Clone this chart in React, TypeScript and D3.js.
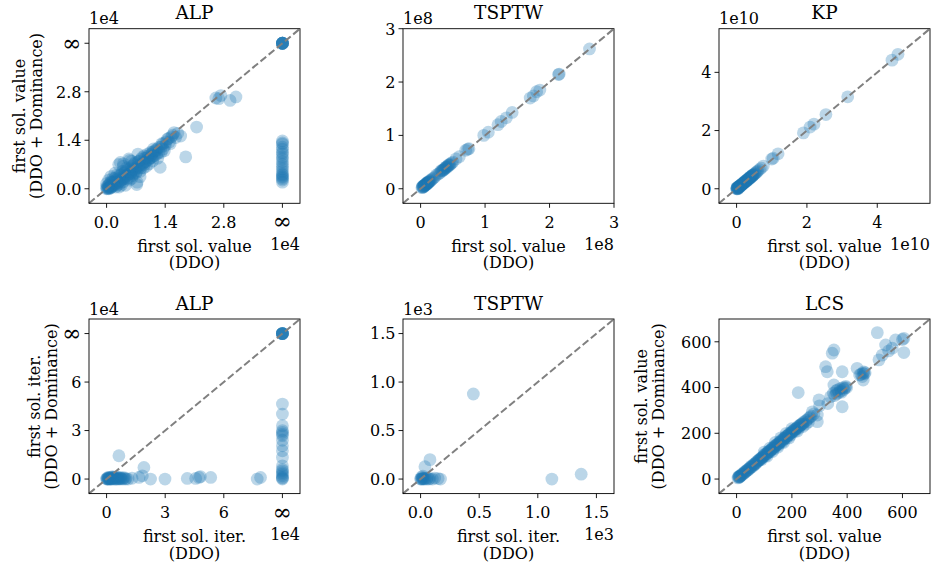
import React from 'react';
import * as d3 from 'd3';

const W = 933;
const H = 567;
const BLUE = '#1f77b4';
const FONT = '"DejaVu Serif", serif';

// ALP, first solution value, units of 1e4. 4.2 is the "no solution" (inf) position
const ALP_VAL_INF = 4.2;
const alpValuePoints: [number, number][] = [
  [0.0, 0.0], [0.02, 0.01], [0.03, 0.02], [0.05, 0.03], [0.06, 0.04], [0.08, 0.06], [0.1, 0.02],
  [0.1, 0.08], [0.12, 0.1], [0.14, 0.1], [0.15, 0.08], [0.18, 0.2], [0.2, 0.12], [0.2, 0.15],
  [0.22, 0.05], [0.25, 0.22], [0.25, 0.2], [0.28, 0.18], [0.3, 0.3], [0.32, 0.15], [0.35, 0.4],
  [0.38, 0.28], [0.4, 0.2], [0.42, 0.45], [0.45, 0.35], [0.48, 0.3], [0.5, 0.55], [0.52, 0.42],
  [0.55, 0.25], [0.58, 0.6], [0.6, 0.5], [0.62, 0.38], [0.65, 0.7], [0.68, 0.55], [0.7, 0.45],
  [0.72, 0.12], [0.75, 0.78], [0.78, 0.62], [0.8, 0.5], [0.82, 0.85], [0.85, 0.7], [0.88, 0.6],
  [0.9, 0.95], [0.92, 0.78], [0.95, 0.65], [0.98, 1.0], [1.0, 0.85], [1.02, 0.72], [1.05, 1.05],
  [1.08, 0.9], [1.1, 0.8], [1.12, 1.15], [1.15, 0.95], [1.18, 1.1], [1.2, 1.0], [1.22, 0.88],
  [1.25, 1.2], [1.28, 0.62], [1.3, 1.05], [1.32, 1.3], [1.35, 1.15], [1.4, 1.25], [1.45, 1.43],
  [1.5, 1.35], [1.55, 1.5], [1.61, 1.62], [1.65, 1.48], [1.77, 1.52], [0.33, 0.76], [0.53, 0.86],
  [0.29, 0.7], [0.1, 0.35], [0.05, 0.25], [0.2, 0.45], [0.4, 0.65], [0.6, 0.8], [0.75, 1.0],
  [0.57, 0.43], [0.73, 0.19], [0.45, 0.1], [0.3, 0.05], [0.15, 0.3], [0.0, 0.15], [0.05, 0.0],
  [0.0, 0.05], [1.89, 0.92], [2.15, 1.78], [2.61, 2.62], [2.68, 2.6], [2.73, 2.69], [2.95, 2.55],
  [3.09, 2.65],
  [0.05, 0.1], [0.08, 0.15], [0.1, 0.2], [0.12, 0.05], [0.15, 0.2], [0.18, 0.1], [0.2, 0.3],
  [0.22, 0.25], [0.25, 0.1], [0.28, 0.35], [0.3, 0.2], [0.32, 0.4], [0.35, 0.25], [0.38, 0.5],
  [0.4, 0.35], [0.42, 0.3], [0.45, 0.5], [0.48, 0.6], [0.5, 0.4], [0.52, 0.3], [0.55, 0.5],
  [0.58, 0.45], [0.6, 0.65], [0.62, 0.55], [0.65, 0.45], [0.68, 0.75], [0.7, 0.6], [0.72, 0.5],
  [0.75, 0.65], [0.78, 0.8], [0.8, 0.7], [0.82, 0.6], [0.85, 0.9], [0.88, 0.75], [0.9, 0.7],
  [0.92, 0.88], [0.95, 0.8], [0.98, 0.9], [1.0, 0.95], [1.02, 0.85], [1.05, 0.9], [1.08, 1.0],
  [1.1, 1.05], [1.12, 0.95], [1.15, 1.1], [1.2, 1.15], [1.25, 1.05], [1.3, 1.2], [1.35, 1.3],
  [1.38, 1.1], [1.42, 1.35], [1.48, 1.45], [1.52, 1.3], [1.58, 1.55], [1.7, 1.6], [0.4, 0.72],
  [0.55, 0.82], [0.35, 0.1], [0.6, 0.3], [0.8, 0.35], [0.25, 0.4], [0.15, 0.15], [0.08, 0.02],
  [0.12, 0.18], [0.03, 0.08],
];
const alpValueInfBoth = 8;
const alpValueInfColumn = [
  1.38, 1.32, 1.29, 1.2, 1.14, 1.05, 1.0, 0.92, 0.86, 0.78, 0.71, 0.64, 0.57, 0.5, 0.43, 0.4,
  0.36, 0.33, 0.29, 0.25, 0.19,
];

// TSPTW, first solution value, units of 1e8
const tsptwValuePoints: [number, number][] = [
  [0.02, 0.02], [0.03, 0.03], [0.04, 0.05], [0.05, 0.04], [0.05, 0.06], [0.06, 0.06], [0.06, 0.07],
  [0.07, 0.07], [0.08, 0.08], [0.08, 0.07], [0.09, 0.1], [0.1, 0.09], [0.1, 0.11], [0.11, 0.11],
  [0.12, 0.12], [0.12, 0.13], [0.13, 0.13], [0.14, 0.15], [0.15, 0.14], [0.18, 0.18], [0.22, 0.22],
  [0.25, 0.26], [0.3, 0.3], [0.32, 0.34], [0.33, 0.33], [0.35, 0.36], [0.36, 0.35], [0.38, 0.38],
  [0.4, 0.41], [0.42, 0.42], [0.44, 0.45], [0.46, 0.46], [0.5, 0.5], [0.55, 0.56], [0.6, 0.6],
  [0.7, 0.72], [0.73, 0.74], [0.75, 0.75], [0.98, 1.0], [1.05, 1.06], [1.2, 1.2], [1.25, 1.26],
  [1.33, 1.33], [1.42, 1.43], [1.7, 1.7], [1.75, 1.74], [1.8, 1.82], [1.85, 1.85], [2.14, 2.14],
  [2.15, 2.15], [2.62, 2.62],
  [0.03, 0.04], [0.04, 0.03], [0.06, 0.05], [0.07, 0.08], [0.09, 0.08], [0.11, 0.1], [0.13, 0.12],
  [0.16, 0.16], [0.2, 0.2], [0.28, 0.28], [0.34, 0.34], [0.37, 0.37], [0.39, 0.4], [0.41, 0.4],
  [0.43, 0.44], [0.45, 0.44], [0.48, 0.48],
];

// KP, first solution value, units of 1e10
const kpValuePoints: [number, number][] = [
  [0.0, 0.0], [0.01, 0.03], [0.02, 0.02], [0.03, 0.01], [0.04, 0.03], [0.05, 0.02], [0.05, 0.06],
  [0.06, 0.05], [0.08, 0.08], [0.1, 0.1], [0.12, 0.1], [0.12, 0.13], [0.15, 0.15], [0.18, 0.18],
  [0.2, 0.18], [0.2, 0.21], [0.22, 0.22], [0.25, 0.25], [0.28, 0.28], [0.3, 0.28], [0.3, 0.31],
  [0.33, 0.33], [0.35, 0.35], [0.38, 0.38], [0.4, 0.38], [0.4, 0.41], [0.43, 0.43], [0.45, 0.46],
  [0.48, 0.48], [0.5, 0.5], [0.55, 0.55], [0.6, 0.61], [0.65, 0.66], [0.7, 0.71], [0.76, 0.78],
  [1.0, 1.02], [1.04, 1.05], [1.18, 1.2], [1.9, 1.92], [2.09, 2.12], [2.2, 2.22], [2.54, 2.55],
  [3.16, 3.16], [4.42, 4.42], [4.59, 4.62],
  [0.01, 0.0], [0.02, 0.04], [0.03, 0.05], [0.04, 0.0], [0.06, 0.08], [0.07, 0.06], [0.09, 0.09],
  [0.1, 0.07], [0.11, 0.12], [0.13, 0.12], [0.14, 0.15], [0.16, 0.14], [0.17, 0.17], [0.19, 0.2],
  [0.21, 0.2], [0.23, 0.24], [0.24, 0.22], [0.26, 0.27], [0.27, 0.25], [0.29, 0.3], [0.32, 0.31],
  [0.34, 0.35], [0.36, 0.34], [0.37, 0.38], [0.39, 0.4], [0.42, 0.41], [0.44, 0.45], [0.46, 0.44],
  [0.47, 0.48], [0.52, 0.52], [0.58, 0.58],
];

// ALP, first solution iteration, units of 1e4. 9 is the inf position
const ALP_ITER_INF = 9;
const alpIterPoints: [number, number][] = [
  [0.0, 0.0], [0.02, 0.05], [0.05, 0.02], [0.08, 0.1], [0.1, 0.01], [0.12, 0.0], [0.15, 0.05],
  [0.2, 0.02], [0.25, 0.08], [0.3, 0.03], [0.3, 0.15], [0.35, 0.1], [0.4, 0.05], [0.45, 0.0],
  [0.5, 0.12], [0.5, 0.0], [0.55, 0.04], [0.6, 0.08], [0.65, 0.02], [0.7, 0.1], [0.75, 0.05],
  [0.8, 0.0], [0.9, 0.08], [1.0, 0.03], [1.1, 0.0], [1.3, 0.05], [0.63, 1.44], [1.91, 0.72],
  [1.66, 0.1], [1.83, 0.2], [2.25, 0.0], [2.99, 0.0], [4.13, 0.04], [4.56, 0.04], [4.73, 0.1],
  [4.8, 0.15], [5.33, 0.1], [7.71, 0.0], [7.88, 0.1],
  [0.05, 0.0], [0.1, 0.05], [0.2, 0.0], [0.25, 0.0], [0.35, 0.0], [0.4, 0.1], [0.6, 0.0],
  [0.7, 0.02], [0.85, 0.05], [0.95, 0.0], [0.15, 0.1], [0.3, 0.08],
];
const alpIterInfBoth = 8;
const alpIterInfColumn = [
  4.64, 4.02, 3.3, 3.0, 2.89, 2.78, 2.68, 2.4, 2.06, 1.75, 1.34, 0.82, 0.6, 0.51, 0.4, 0.31,
  0.2, 0.1, 0.05, 0.0,
];

// TSPTW, first solution iteration, units of 1e3
const tsptwIterPoints: [number, number][] = [
  [0.0, 0.0], [0.005, 0.002], [0.01, 0.005], [0.01, 0.02], [0.015, 0.0], [0.02, 0.01],
  [0.02, 0.03], [0.025, 0.003], [0.03, 0.0], [0.04, 0.008], [0.05, 0.0], [0.06, 0.01],
  [0.07, 0.0], [0.08, 0.005], [0.1, 0.0], [0.12, 0.01], [0.15, 0.005], [0.17, 0.0],
  [0.037, 0.127], [0.08, 0.2], [0.45, 0.877], [1.12, 0.0], [1.37, 0.05],
];

// LCS, first solution value
const lcsValuePoints: [number, number][] = [
  [8, 8], [10, 12], [12, 10], [15, 15], [20, 22], [25, 24], [30, 32], [35, 35], [40, 42], [45, 44],
  [50, 50], [55, 58], [60, 60], [65, 63], [70, 72], [75, 78], [80, 80], [85, 88], [90, 92], [90, 85],
  [95, 95], [100, 105], [100, 118], [105, 102], [110, 112], [110, 100], [115, 120], [120, 118],
  [120, 135], [125, 128], [130, 135], [130, 120], [135, 132], [140, 145], [140, 160], [145, 150],
  [150, 148], [150, 140], [155, 160], [160, 165], [160, 180], [165, 162], [170, 175], [170, 160],
  [175, 180], [180, 178], [180, 200], [185, 190], [190, 195], [190, 180], [195, 192], [200, 205],
  [200, 220], [205, 210], [210, 208], [215, 220], [220, 225], [220, 210], [225, 222], [230, 235],
  [235, 240], [240, 245], [240, 230], [250, 255], [250, 240], [260, 265], [260, 250], [274, 294],
  [280, 285], [292, 251], [292, 280], [298, 346], [300, 320], [330, 330], [223, 378], [340, 360],
  [350, 375], [352, 411], [360, 385], [365, 390], [375, 395], [380, 380], [382, 316], [385, 400],
  [395, 405], [322, 491], [328, 469], [346, 550], [352, 564], [382, 469], [436, 484], [445, 455],
  [455, 448], [457, 462], [458, 433], [465, 465], [509, 640], [515, 521], [527, 542], [539, 586],
  [550, 560], [563, 572], [575, 608], [600, 610], [605, 615], [605, 553],
  [5, 5], [7, 10], [10, 8], [13, 13], [18, 18], [22, 20], [28, 28], [32, 30], [38, 38], [42, 40],
  [48, 50], [52, 52], [58, 55], [62, 65], [68, 68], [72, 70], [78, 80], [82, 85], [88, 88],
  [92, 95], [98, 100], [102, 108], [108, 110], [112, 115], [118, 122], [122, 125], [128, 130],
  [132, 138], [138, 140], [142, 148], [148, 152], [152, 155], [158, 162], [162, 170], [168, 170],
  [172, 178], [178, 185], [182, 188], [188, 192], [192, 200], [198, 202], [202, 208], [208, 215],
  [212, 218], [218, 222], [222, 230], [228, 232], [232, 238], [238, 240], [245, 250], [255, 258],
  [265, 270], [270, 275], [355, 365], [362, 372], [370, 378], [378, 385], [388, 392], [392, 398],
  [398, 400], [450, 458], [460, 468], [462, 460],
];

const withInf = (pts: [number, number][], inf: number, both: number, column: number[]) =>
  [
    ...pts,
    ...column.map((v) => [inf, v] as [number, number]),
    ...d3.range(both).map(() => [inf, inf] as [number, number]),
  ];

const PW = 211;
const PH = 174.6;
const COLS = [89, 403, 719];
const ROWS = [28.7, 319];

type PanelSpec = {
  title: string;
  col: number;
  row: number;
  points: [number, number][];
  lim: [number, number];
  ticks: number[];
  labels: string[];
  offset?: string;
  xlabel: string[];
  ylabel?: string[];
  ylabelGap?: number;
};

const panels: PanelSpec[] = [
  {
    title: 'ALP', col: 0, row: 0,
    points: withInf(alpValuePoints, ALP_VAL_INF, alpValueInfBoth, alpValueInfColumn),
    lim: [-0.42, 4.62], ticks: [0, 1.4, 2.8, ALP_VAL_INF], labels: ['0.0', '1.4', '2.8', '∞'],
    offset: '1e4', xlabel: ['first sol. value', '(DDO)'],
    ylabel: ['first sol. value', '(DDO + Dominance)'], ylabelGap: 47,
  },
  {
    title: 'TSPTW', col: 1, row: 0, points: tsptwValuePoints,
    lim: [-0.273, 3.0], ticks: [0, 1, 2, 3], labels: ['0', '1', '2', '3'],
    offset: '1e8', xlabel: ['first sol. value', '(DDO)'],
  },
  {
    title: 'KP', col: 2, row: 0, points: kpValuePoints,
    lim: [-0.5, 5.5], ticks: [0, 2, 4], labels: ['0', '2', '4'],
    offset: '1e10', xlabel: ['first sol. value', '(DDO)'],
  },
  {
    title: 'ALP', col: 0, row: 1,
    points: withInf(alpIterPoints, ALP_ITER_INF, alpIterInfBoth, alpIterInfColumn),
    lim: [-0.9, 9.9], ticks: [0, 3, 6, ALP_ITER_INF], labels: ['0', '3', '6', '∞'],
    offset: '1e4', xlabel: ['first sol. iter.', '(DDO)'],
    ylabel: ['first sol. iter.', '(DDO + Dominance)'], ylabelGap: 32,
  },
  {
    title: 'TSPTW', col: 1, row: 1, points: tsptwIterPoints,
    lim: [-0.15, 1.65], ticks: [0, 0.5, 1.0, 1.5], labels: ['0.0', '0.5', '1.0', '1.5'],
    offset: '1e3', xlabel: ['first sol. iter.', '(DDO)'],
  },
  {
    title: 'LCS', col: 2, row: 1, points: lcsValuePoints,
    lim: [-63.6, 699.6], ticks: [0, 200, 400, 600], labels: ['0', '200', '400', '600'],
    xlabel: ['first sol. value', '(DDO)'],
    ylabel: ['first sol. value', '(DDO + Dominance)'], ylabelGap: 55.5,
  },
];

const FS = 16;
const LINE = 16.6;

function TickText({ x, y, anchor, s }: { x: number; y: number; anchor: string; s: string }) {
  const inf = s === '∞';
  return (
    <text x={x} y={inf ? y + 1.5 : y} textAnchor={anchor} fontSize={inf ? 23 : FS}>{s}</text>
  );
}

function Panel({ p }: { p: PanelSpec }) {
  const left = COLS[p.col];
  const top = ROWS[p.row];
  const right = left + PW;
  const bottom = top + PH;
  const x = d3.scaleLinear().domain(p.lim).range([left, right]);
  const y = d3.scaleLinear().domain(p.lim).range([bottom, top]);
  const cx = (left + right) / 2;
  const cy = (top + bottom) / 2;

  return (
    <g>
      {p.points.map(([a, b], i) => (
        <circle key={i} cx={x(a)} cy={y(b)} r={6.4} fill={BLUE} fillOpacity={0.3} />
      ))}
      <line
        x1={x(p.lim[0])} y1={y(p.lim[0])} x2={x(p.lim[1])} y2={y(p.lim[1])}
        stroke="#808080" strokeWidth={2} strokeDasharray="7.4 3.2"
      />
      <rect x={left} y={top} width={PW} height={PH} fill="none" stroke="#000" strokeWidth={0.9} />

      {p.ticks.map((t, i) => (
        <g key={'x' + i}>
          <line x1={x(t)} x2={x(t)} y1={bottom} y2={bottom + 4.5} stroke="#000" strokeWidth={0.9} />
          <TickText x={x(t)} y={bottom + 24.4} anchor="middle" s={p.labels[i]} />
        </g>
      ))}
      {p.ticks.map((t, i) => (
        <g key={'y' + i}>
          <line x1={left - 4.5} x2={left} y1={y(t)} y2={y(t)} stroke="#000" strokeWidth={0.9} />
          <TickText x={left - 7.5} y={y(t) + 5.8} anchor="end" s={p.labels[i]} />
        </g>
      ))}

      <text x={cx} y={top - 9.5} textAnchor="middle" fontSize={18.5}>{p.title}</text>

      {p.offset && (
        <>
          <text x={left} y={top - 4.5} fontSize={FS}>{p.offset}</text>
          <text x={right} y={bottom + 46.7} textAnchor="end" fontSize={FS}>{p.offset}</text>
        </>
      )}

      {p.xlabel.map((s, i) => (
        <text key={'xl' + i} x={cx} y={bottom + 48.4 + i * LINE} textAnchor="middle" fontSize={FS}>{s}</text>
      ))}

      {p.ylabel && p.ylabel.map((s, i) => (
        <text
          key={'yl' + i}
          transform={`translate(${left - (p.ylabelGap ?? 0) - (p.ylabel!.length - 1 - i) * LINE},${cy}) rotate(-90)`}
          textAnchor="middle" fontSize={FS}
        >{s}</text>
      ))}
    </g>
  );
}

export default function App() {
  return (
    <svg
      width={W} height={H} viewBox={`0 0 ${W} ${H}`}
      style={{ position: 'absolute', left: 0, top: 0, background: '#fff' }}
      fontFamily={FONT} fill="#000"
    >
      <rect width={W} height={H} fill="#fff" />
      {panels.map((p, i) => <Panel key={i} p={p} />)}
    </svg>
  );
}
